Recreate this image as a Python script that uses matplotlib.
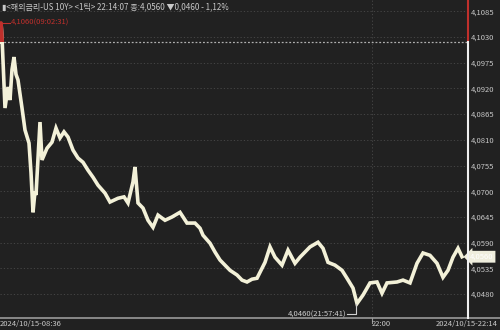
"""US 10Y tick chart recreation."""
import matplotlib
matplotlib.use("Agg")
import matplotlib.pyplot as plt
from matplotlib.patches import Rectangle
from matplotlib.transforms import blended_transform_factory

plt.rcParams['font.family'] = ['Noto Sans CJK KR', 'DejaVu Sans']

# %%
# data (x = tick index, y = yield)
tick_idx = [0, 1, 2, 5, 8, 10, 12, 14, 16, 18, 22, 25, 29, 31, 33, 35, 36, 40, 42,
            47, 52, 56, 60, 64, 68, 73, 78, 83, 88, 93, 98, 105, 110, 118, 124, 128,
            133, 135, 138, 143, 148, 153, 158, 165, 172, 180, 187, 195, 200, 203,
            210, 215, 220, 230, 237, 242, 247, 252, 257, 265, 270, 275, 282, 288,
            295, 300, 310, 318, 323, 328, 335, 342, 347, 353, 357, 363, 370, 377,
            382, 387, 397, 403, 410, 417, 423, 430, 437, 443, 448, 453, 458, 462]
price = [4.1019, 4.1060, 4.1030, 4.0878, 4.0923, 4.0895, 4.0960, 4.0987, 4.0950,
         4.0938, 4.0878, 4.0831, 4.0803, 4.0740, 4.0655, 4.0700, 4.0692, 4.0848,
         4.0767, 4.0792, 4.0805, 4.0835, 4.0814, 4.0827, 4.0816, 4.0788, 4.0771,
         4.0762, 4.0745, 4.0730, 4.0713, 4.0696, 4.0677, 4.0685, 4.0688, 4.0675,
         4.0720, 4.0752, 4.0675, 4.0664, 4.0638, 4.0623, 4.0649, 4.0638, 4.0645,
         4.0655, 4.0632, 4.0632, 4.0621, 4.0606, 4.0589, 4.0570, 4.0553, 4.0531,
         4.0521, 4.0510, 4.0506, 4.0512, 4.0514, 4.0548, 4.0581, 4.0559, 4.0542,
         4.0574, 4.0546, 4.0559, 4.0581, 4.0591, 4.0578, 4.0548, 4.0542, 4.0531,
         4.0514, 4.0493, 4.0460, 4.0478, 4.0504, 4.0506, 4.0482, 4.0504, 4.0506,
         4.0510, 4.0504, 4.0546, 4.0568, 4.0563, 4.0546, 4.0516, 4.0531, 4.0559,
         4.0578, 4.0560]

prev_close = 4.1020
y_ticks = [4.1085, 4.1030, 4.0975, 4.0920, 4.0865, 4.0810, 4.0755, 4.0700,
           4.0645, 4.0590, 4.0535, 4.0480]
x_labels = ["2024/10/15-08:36", "22:00", "2024/10/15-22:14"]
x_label_idx = [0, 372, 468]
title = "▮<해외금리-US 10Y> <1틱> 22:14:07 종:4,0560 ▼0,0460 - 1,12%"
max_label = "4,1060(09:02:31)"
min_label = "4,0460(21:57:41)"
last_label = "4,0560"

bg = "#212121"
line_c = "#f3f1d8"
red = "#c0302c"
txt = "#c8c8c8"

# %%
fig = plt.figure(figsize=(5, 3.3), dpi=100, facecolor=bg)
ax = fig.add_axes([0.0, 12 / 330, 468 / 500, 1 - 12 / 330], facecolor=bg)
ax.set_xlim(0, 468)
ax.set_ylim(4.0429, 4.1109)

for v in y_ticks:
    ax.axhline(v, color="#4a4a4a", lw=0.6, ls=(0, (1.5, 2.5)), zorder=1)
ax.axvline(372, color="#4a4a4a", lw=0.6, ls=(0, (1.5, 2.5)), zorder=1)
ax.axhline(prev_close, color="#b0b0b0", lw=0.9, ls=(0, (1.5, 1.5)), zorder=2)

ax.plot(tick_idx, price, color=line_c, lw=2.6, solid_joinstyle="miter", zorder=3)
red_part, = ax.plot(tick_idx, price, color=red, lw=2.6, zorder=4)
clip = Rectangle((0, prev_close), 468, 1, transform=ax.transData)
red_part.set_clip_path(clip)

# current-time marker on right edge
ax.plot([468, 468], [prev_close, 4.1109], color=red, lw=1.5, clip_on=False, zorder=5)
ax.plot([468, 468], [4.0429, prev_close], color="#f0f0f0", lw=1.5, clip_on=False, zorder=5)

# max / min annotations
ax.plot([1, 1, 10], [price[1], 4.1060, 4.1060], color=red, lw=0.8, zorder=5)
ax.text(11, 4.1060, max_label, color=red, fontsize=5.5, va="center", ha="left")
ax.plot([347, 356, 356], [4.0437, 4.0437, 4.0460], color="#d0d0d0", lw=0.8, zorder=5)
ax.text(346, 4.0437, min_label, color="#d0d0d0", fontsize=5.5, va="center", ha="right")

# title
ax.text(2, 4.1094, title, color=txt, fontsize=5.8, va="center", ha="left",
        family=["Noto Sans CJK KR", "DejaVu Sans"])

# y labels on the right
ax.set_yticks(y_ticks)
ax.set_yticklabels([f"{v:.4f}".replace(".", ",") for v in y_ticks])
ax.yaxis.tick_right()
ax.tick_params(axis="y", length=0, pad=2, labelsize=5.5, labelcolor=txt)
ax.set_xticks([])
for s in ["top", "left", "right"]:
    ax.spines[s].set_visible(False)
ax.spines["bottom"].set_color("#9a9a9a")
ax.spines["bottom"].set_linewidth(1.2)
ax.spines["bottom"].set_bounds(0, 500)

# last price tag
ax.text(470, price[-1], last_label, color="#ffffff", fontsize=5.5, va="center",
        ha="left", clip_on=False,
        bbox=dict(boxstyle="larrow,pad=0.25", fc="#efeedd", ec="none"))

# x labels
tr = blended_transform_factory(ax.transData, ax.transAxes)
ha_list = ["left", "left", "right"]
for xi, lab, ha in zip(x_label_idx, x_labels, ha_list):
    xx = xi if ha == "left" else 498
    ax.text(xx, -0.005, lab, transform=tr, color=txt, fontsize=5.5, va="top", ha=ha,
            clip_on=False)
ax.plot([372, 372], [-0.015, 0], transform=tr, color="#9a9a9a", lw=0.8, clip_on=False)

fig.savefig("out.png", dpi=100, facecolor=bg)
